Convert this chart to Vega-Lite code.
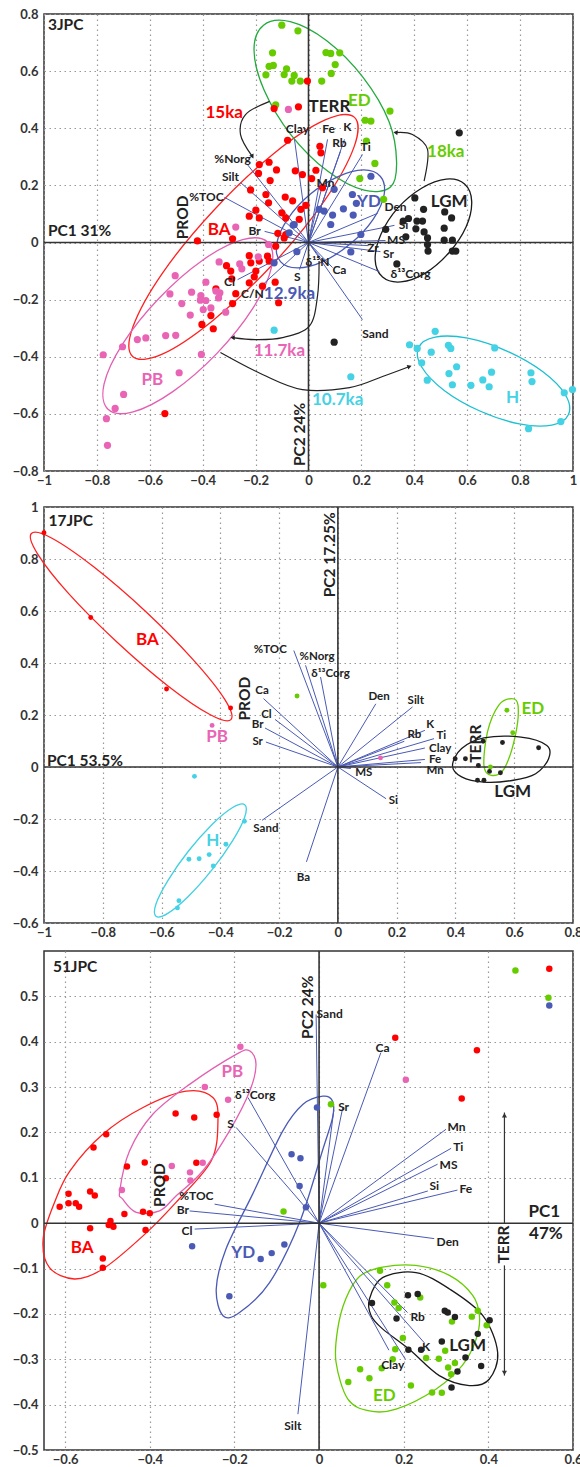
{
"$schema":"https://vega.github.io/schema/vega-lite/v6.json",
"padding":{"left":11,"top":7,"right":9,"bottom":0},
"background":"white",
"spacing":36,
"bounds":"flush",
"resolve":{"scale":{"stroke":"independent"}},
"config":{
 "font":"Lato",
 "view":{"stroke":"#333333","strokeWidth":1.5},
 "axis":{"domain":false,"ticks":false,"grid":true,"gridColor":"#999999","gridDash":[1.5,3.5],"gridWidth":1.2,"labelFont":"Lato","labelFontSize":13,"labelFontWeight":"bold","labelColor":"#333333","labelFlush":false,"labelOverlap":false},
 "axisX":{"labelPadding":3},
 "axisY":{"labelPadding":6},
 "text":{"font":"Lato","fontWeight":"bold"}
},
"datasets":{
"p1pts":[
{"g":"ED","x":-0.101,"y":0.761},{"g":"ED","x":-0.040,"y":0.741},{"g":"ED","x":-0.136,"y":0.664},{"g":"ED","x":-0.149,"y":0.617},{"g":"ED","x":-0.133,"y":0.620},{"g":"ED","x":-0.161,"y":0.587},{"g":"ED","x":-0.083,"y":0.608},{"g":"ED","x":-0.092,"y":0.588},{"g":"ED","x":-0.054,"y":0.585},{"g":"ED","x":-0.063,"y":0.565},{"g":"ED","x":-0.031,"y":0.565},{"g":"ED","x":-0.124,"y":0.482},{"g":"ED","x":0.066,"y":0.665},{"g":"ED","x":0.084,"y":0.662},{"g":"ED","x":0.118,"y":0.664},{"g":"ED","x":0.101,"y":0.623},{"g":"ED","x":0.086,"y":0.592},{"g":"ED","x":0.050,"y":0.565},{"g":"ED","x":0.308,"y":0.460},{"g":"ED","x":0.214,"y":0.428},{"g":"ED","x":0.236,"y":0.425},{"g":"ED","x":0.219,"y":0.355},{"g":"ED","x":0.251,"y":0.277},{"g":"ED","x":0.194,"y":0.224},{"g":"ED","x":0.284,"y":0.151},
{"g":"BA","x":-0.130,"y":0.469},{"g":"BA","x":-0.038,"y":0.475},{"g":"BA","x":-0.079,"y":0.358},{"g":"BA","x":-0.149,"y":0.281},{"g":"BA","x":-0.186,"y":0.273},{"g":"BA","x":-0.121,"y":0.254},{"g":"BA","x":-0.189,"y":0.242},{"g":"BA","x":-0.050,"y":0.251},{"g":"BA","x":-0.145,"y":0.217},{"g":"BA","x":-0.219,"y":0.184},{"g":"BA","x":-0.161,"y":0.168},{"g":"BA","x":-0.151,"y":0.139},{"g":"BA","x":-0.088,"y":0.159},{"g":"BA","x":-0.060,"y":0.146},{"g":"BA","x":-0.199,"y":0.113},{"g":"BA","x":-0.224,"y":0.092},{"g":"BA","x":-0.186,"y":0.086},{"g":"BA","x":-0.101,"y":0.104},{"g":"BA","x":-0.086,"y":0.086},{"g":"BA","x":-0.029,"y":0.116},{"g":"BA","x":-0.035,"y":0.081},{"g":"BA","x":-0.116,"y":0.032},{"g":"BA","x":-0.287,"y":0.013},{"g":"BA","x":-0.420,"y":0.006},{"g":"BA","x":-0.004,"y":0.565},{"g":"BA","x":0.043,"y":0.337},{"g":"BA","x":0.047,"y":0.314},{"g":"BA","x":-0.023,"y":0.238},{"g":"BA","x":0.028,"y":0.253},{"g":"BA","x":0.012,"y":0.224},{"g":"BA","x":0.053,"y":0.192},{"g":"BA","x":-0.010,"y":0.130},{"g":"BA","x":-0.086,"y":0.028},{"g":"BA","x":-0.124,"y":-0.013},{"g":"BA","x":-0.155,"y":-0.048},{"g":"BA","x":-0.149,"y":-0.065},{"g":"BA","x":-0.186,"y":-0.065},{"g":"BA","x":-0.224,"y":-0.046},{"g":"BA","x":-0.218,"y":-0.071},{"g":"BA","x":-0.310,"y":-0.081},{"g":"BA","x":-0.294,"y":-0.100},{"g":"BA","x":-0.290,"y":-0.127},{"g":"BA","x":-0.350,"y":-0.162},{"g":"BA","x":-0.275,"y":-0.179},{"g":"BA","x":-0.287,"y":-0.214},{"g":"BA","x":-0.224,"y":-0.141},{"g":"BA","x":-0.205,"y":-0.120},{"g":"BA","x":-0.199,"y":-0.100},{"g":"BA","x":-0.174,"y":-0.153},{"g":"BA","x":-0.126,"y":-0.139},{"g":"BA","x":-0.113,"y":-0.211},{"g":"BA","x":-0.369,"y":-0.256},{"g":"BA","x":-0.403,"y":-0.287},{"g":"BA","x":-0.360,"y":-0.302},{"g":"BA","x":-0.543,"y":-0.599},{"g":"BA","x":-0.092,"y":0.016},
{"g":"PB","x":-0.151,"y":-0.007},{"g":"PB","x":-0.338,"y":-0.068},{"g":"PB","x":-0.260,"y":-0.075},{"g":"PB","x":-0.252,"y":-0.092},{"g":"PB","x":-0.504,"y":-0.116},{"g":"PB","x":-0.388,"y":-0.139},{"g":"PB","x":-0.524,"y":-0.180},{"g":"PB","x":-0.442,"y":-0.174},{"g":"PB","x":-0.407,"y":-0.186},{"g":"PB","x":-0.388,"y":-0.203},{"g":"PB","x":-0.409,"y":-0.202},{"g":"PB","x":-0.350,"y":-0.170},{"g":"PB","x":-0.335,"y":-0.176},{"g":"PB","x":-0.340,"y":-0.194},{"g":"PB","x":-0.479,"y":-0.214},{"g":"PB","x":-0.398,"y":-0.235},{"g":"PB","x":-0.369,"y":-0.229},{"g":"PB","x":-0.313,"y":-0.244},{"g":"PB","x":-0.447,"y":-0.254},{"g":"PB","x":-0.647,"y":-0.340},{"g":"PB","x":-0.615,"y":-0.334},{"g":"PB","x":-0.540,"y":-0.326},{"g":"PB","x":-0.502,"y":-0.325},{"g":"PB","x":-0.703,"y":-0.365},{"g":"PB","x":-0.405,"y":-0.392},{"g":"PB","x":-0.776,"y":-0.393},{"g":"PB","x":-0.489,"y":-0.456},{"g":"PB","x":-0.699,"y":-0.532},{"g":"PB","x":-0.731,"y":-0.581},{"g":"PB","x":-0.764,"y":-0.617},{"g":"PB","x":-0.760,"y":-0.710},{"g":"PB","x":-0.076,"y":0.466},{"g":"PB","x":-0.275,"y":0.054},{"g":"PB","x":-0.190,"y":-0.050},
{"g":"YD","x":0.236,"y":0.232},{"g":"YD","x":0.166,"y":0.168},{"g":"YD","x":0.181,"y":0.137},{"g":"YD","x":0.132,"y":0.118},{"g":"YD","x":0.169,"y":0.096},{"g":"YD","x":0.097,"y":0.186},{"g":"YD","x":0.040,"y":0.116},{"g":"YD","x":0.059,"y":0.110},{"g":"YD","x":0.091,"y":0.096},{"g":"YD","x":0.084,"y":0.063},{"g":"YD","x":-0.054,"y":0.063},{"g":"YD","x":0.198,"y":0.028},{"g":"YD","x":-0.073,"y":0.034},{"g":"YD","x":-0.058,"y":0.061},{"g":"YD","x":-0.044,"y":-0.032},{"g":"YD","x":0.160,"y":-0.033},{"g":"YD","x":-0.130,"y":-0.071},
{"g":"LGM","x":0.570,"y":0.384},{"g":"LGM","x":0.402,"y":0.156},{"g":"LGM","x":0.435,"y":0.116},{"g":"LGM","x":0.515,"y":0.107},{"g":"LGM","x":0.541,"y":0.086},{"g":"LGM","x":0.378,"y":0.084},{"g":"LGM","x":0.410,"y":0.075},{"g":"LGM","x":0.431,"y":0.075},{"g":"LGM","x":0.358,"y":0.075},{"g":"LGM","x":0.406,"y":0.048},{"g":"LGM","x":0.437,"y":0.037},{"g":"LGM","x":0.513,"y":0.050},{"g":"LGM","x":0.292,"y":0.046},{"g":"LGM","x":0.368,"y":0.020},{"g":"LGM","x":0.450,"y":0.016},{"g":"LGM","x":0.513,"y":0.008},{"g":"LGM","x":0.544,"y":0.008},{"g":"LGM","x":0.450,"y":-0.007},{"g":"LGM","x":0.452,"y":-0.030},{"g":"LGM","x":0.544,"y":-0.030},{"g":"LGM","x":0.557,"y":-0.030},{"g":"LGM","x":0.334,"y":-0.075},{"g":"LGM","x":0.097,"y":-0.349},
{"g":"H","x":0.479,"y":-0.311},{"g":"H","x":0.382,"y":-0.358},{"g":"H","x":0.411,"y":-0.371},{"g":"H","x":0.464,"y":-0.384},{"g":"H","x":0.529,"y":-0.360},{"g":"H","x":0.538,"y":-0.371},{"g":"H","x":0.704,"y":-0.369},{"g":"H","x":0.428,"y":-0.421},{"g":"H","x":0.560,"y":-0.435},{"g":"H","x":0.531,"y":-0.459},{"g":"H","x":0.692,"y":-0.454},{"g":"H","x":0.659,"y":-0.481},{"g":"H","x":0.614,"y":-0.500},{"g":"H","x":0.544,"y":-0.498},{"g":"H","x":0.683,"y":-0.505},{"g":"H","x":0.449,"y":-0.482},{"g":"H","x":0.841,"y":-0.456},{"g":"H","x":0.845,"y":-0.487},{"g":"H","x":0.967,"y":-0.526},{"g":"H","x":0.998,"y":-0.515},{"g":"H","x":0.954,"y":-0.627},{"g":"H","x":0.832,"y":-0.652},{"g":"H","x":0.160,"y":-0.470},{"g":"H","x":-0.130,"y":-0.307}
],
"p1vec":[
{"x":-0.053,"y":0.361},{"x":0.072,"y":0.361},{"x":0.136,"y":0.361},{"x":0.121,"y":0.319},{"x":0.204,"y":0.308},{"x":0.053,"y":0.203},{"x":-0.231,"y":0.273},{"x":-0.257,"y":0.210},{"x":-0.318,"y":0.158},{"x":-0.166,"y":0.039},{"x":0.261,"y":0.102},{"x":0.325,"y":0.060},{"x":0.291,"y":0.007},{"x":0.227,"y":-0.011},{"x":0.272,"y":-0.032},{"x":0.268,"y":-0.102},{"x":0.091,"y":-0.088},{"x":0.204,"y":-0.270},{"x":0.045,"y":-0.053},{"x":-0.034,"y":-0.095},{"x":-0.268,"y":-0.130},{"x":-0.185,"y":-0.158}
],
"p1var":[
{"t":"Clay","x":-0.042,"y":0.396},{"t":"Fe","x":0.076,"y":0.396},{"t":"K","x":0.147,"y":0.403},{"t":"Rb","x":0.117,"y":0.347},{"t":"Ti","x":0.216,"y":0.336},{"t":"Mn","x":0.064,"y":0.210},{"t":"%Norg","x":-0.287,"y":0.294},{"t":"Silt","x":-0.295,"y":0.231},{"t":"%TOC","x":-0.386,"y":0.158},{"t":"Br","x":-0.204,"y":0.042},{"t":"Den","x":0.329,"y":0.126},{"t":"Si","x":0.359,"y":0.062},{"t":"MS","x":0.331,"y":0.009},{"t":"Zr","x":0.244,"y":-0.018},{"t":"Sr","x":0.302,"y":-0.040},{"t":"δ¹³Corg","x":0.386,"y":-0.112},{"t":"Ca","x":0.117,"y":-0.095},{"t":"Sand","x":0.253,"y":-0.319},{"t":"δ¹⁵N","x":0.034,"y":-0.067},{"t":"S","x":-0.042,"y":-0.122},{"t":"Cl","x":-0.299,"y":-0.137},{"t":"C/N","x":-0.212,"y":-0.182}
],
"p1ell":[
{"g":"BA","i":0,"x":0.174,"y":0.438},{"g":"BA","i":1,"x":0.172,"y":0.334},{"g":"BA","i":2,"x":0.060,"y":0.146},{"g":"BA","i":3,"x":-0.135,"y":-0.076},{"g":"BA","i":4,"x":-0.360,"y":-0.272},{"g":"BA","i":5,"x":-0.553,"y":-0.391},{"g":"BA","i":6,"x":-0.665,"y":-0.399},{"g":"BA","i":7,"x":-0.664,"y":-0.296},{"g":"BA","i":8,"x":-0.552,"y":-0.107},{"g":"BA","i":9,"x":-0.357,"y":0.114},{"g":"BA","i":10,"x":-0.132,"y":0.311},{"g":"BA","i":11,"x":0.063,"y":0.429},
{"g":"PB","i":0,"x":-0.154,"y":0.001},{"g":"PB","i":1,"x":-0.140,"y":-0.087},{"g":"PB","i":2,"x":-0.210,"y":-0.230},{"g":"PB","i":3,"x":-0.347,"y":-0.389},{"g":"PB","i":4,"x":-0.513,"y":-0.522},{"g":"PB","i":5,"x":-0.663,"y":-0.593},{"g":"PB","i":6,"x":-0.758,"y":-0.584},{"g":"PB","i":7,"x":-0.773,"y":-0.496},{"g":"PB","i":8,"x":-0.702,"y":-0.354},{"g":"PB","i":9,"x":-0.565,"y":-0.195},{"g":"PB","i":10,"x":-0.399,"y":-0.061},{"g":"PB","i":11,"x":-0.249,"y":0.010},
{"g":"ED","i":0,"x":0.310,"y":0.194},{"g":"ED","i":1,"x":0.210,"y":0.183},{"g":"ED","i":2,"x":0.072,"y":0.250},{"g":"ED","i":3,"x":-0.067,"y":0.378},{"g":"ED","i":4,"x":-0.168,"y":0.534},{"g":"ED","i":5,"x":-0.206,"y":0.674},{"g":"ED","i":6,"x":-0.170,"y":0.761},{"g":"ED","i":7,"x":-0.069,"y":0.773},{"g":"ED","i":8,"x":0.069,"y":0.706},{"g":"ED","i":9,"x":0.207,"y":0.577},{"g":"ED","i":10,"x":0.305,"y":0.422},{"g":"ED","i":11,"x":0.333,"y":0.282},
{"g":"YD","i":0,"x":0.272,"y":0.231},{"g":"YD","i":1,"x":0.286,"y":0.168},{"g":"YD","i":2,"x":0.245,"y":0.082},{"g":"YD","i":3,"x":0.161,"y":-0.003},{"g":"YD","i":4,"x":0.056,"y":-0.066},{"g":"YD","i":5,"x":-0.041,"y":-0.089},{"g":"YD","i":6,"x":-0.106,"y":-0.067},{"g":"YD","i":7,"x":-0.120,"y":-0.004},{"g":"YD","i":8,"x":-0.079,"y":0.082},{"g":"YD","i":9,"x":0.005,"y":0.168},{"g":"YD","i":10,"x":0.110,"y":0.230},{"g":"YD","i":11,"x":0.208,"y":0.254},
{"g":"LGM","i":0,"x":0.590,"y":0.205},{"g":"LGM","i":1,"x":0.617,"y":0.144},{"g":"LGM","i":2,"x":0.596,"y":0.055},{"g":"LGM","i":3,"x":0.531,"y":-0.036},{"g":"LGM","i":4,"x":0.440,"y":-0.108},{"g":"LGM","i":5,"x":0.349,"y":-0.138},{"g":"LGM","i":6,"x":0.280,"y":-0.121},{"g":"LGM","i":7,"x":0.252,"y":-0.060},{"g":"LGM","i":8,"x":0.274,"y":0.029},{"g":"LGM","i":9,"x":0.338,"y":0.121},{"g":"LGM","i":10,"x":0.429,"y":0.191},{"g":"LGM","i":11,"x":0.521,"y":0.222},
{"g":"H","i":0,"x":0.983,"y":-0.602},{"g":"H","i":1,"x":0.920,"y":-0.639},{"g":"H","i":2,"x":0.797,"y":-0.635},{"g":"H","i":3,"x":0.648,"y":-0.590},{"g":"H","i":4,"x":0.513,"y":-0.518},{"g":"H","i":5,"x":0.428,"y":-0.436},{"g":"H","i":6,"x":0.416,"y":-0.368},{"g":"H","i":7,"x":0.479,"y":-0.331},{"g":"H","i":8,"x":0.602,"y":-0.335},{"g":"H","i":9,"x":0.750,"y":-0.380},{"g":"H","i":10,"x":0.885,"y":-0.452},{"g":"H","i":11,"x":0.971,"y":-0.533}
],
"p1arr":[
{"a":"15ka","i":0,"x":-0.147,"y":0.494},{"a":"15ka","i":1,"x":-0.238,"y":0.448},{"a":"15ka","i":2,"x":-0.257,"y":0.378},{"a":"15ka","i":3,"x":-0.212,"y":0.301},
{"a":"18ka","i":0,"x":0.437,"y":0.215},{"a":"18ka","i":1,"x":0.450,"y":0.326},{"a":"18ka","i":2,"x":0.393,"y":0.378},{"a":"18ka","i":3,"x":0.329,"y":0.385},
{"a":"11.7ka","i":0,"x":0.040,"y":-0.065},{"a":"11.7ka","i":1,"x":0.034,"y":-0.188},{"a":"11.7ka","i":2,"x":0.003,"y":-0.293},{"a":"11.7ka","i":3,"x":-0.098,"y":-0.333},{"a":"11.7ka","i":4,"x":-0.200,"y":-0.340},{"a":"11.7ka","i":5,"x":-0.287,"y":-0.333},
{"a":"10.7ka","i":0,"x":-0.333,"y":-0.385},{"a":"10.7ka","i":1,"x":-0.174,"y":-0.462},{"a":"10.7ka","i":2,"x":-0.023,"y":-0.515},{"a":"10.7ka","i":3,"x":0.155,"y":-0.508},{"a":"10.7ka","i":4,"x":0.280,"y":-0.469},{"a":"10.7ka","i":5,"x":0.382,"y":-0.434}
],
"p1head":[
{"x":-0.212,"y":0.301,"dir":151},{"x":0.329,"y":0.385,"dir":277},{"x":-0.287,"y":-0.333,"dir":272},{"x":0.382,"y":-0.434,"dir":70}
],
"p1grp":[
{"t":"15ka","g":"BA","x":-0.319,"y":0.454},{"t":"BA","g":"BA","x":-0.338,"y":0.043},{"t":"ED","g":"ED","x":0.192,"y":0.495},{"t":"18ka","g":"ED","x":0.519,"y":0.316},{"t":"YD","g":"YD","x":0.229,"y":0.143},{"t":"12.9ka","g":"YD","x":-0.072,"y":-0.180},{"t":"11.7ka","g":"PB","x":-0.110,"y":-0.381},{"t":"10.7ka","g":"H","x":0.110,"y":-0.552},{"t":"PB","g":"PB","x":-0.590,"y":-0.480},{"t":"H","g":"H","x":0.771,"y":-0.543},{"t":"LGM","g":"LGM","x":0.532,"y":0.143},{"t":"TERR","g":"LGM","x":0.079,"y":0.476}
],
"p1ann":[{"t":"3JPC","x":-0.985,"y":0.760},{"t":"PC1 31%","x":-0.985,"y":0.039}],
"p1rot":[{"t":"PROD","x":-0.476,"y":0.088},{"t":"PC2 24%","x":-0.034,"y":-0.672}],
"p2pts":[
{"g":"BA","x":-1.0,"y":0.901},{"g":"BA","x":-0.841,"y":0.575},{"g":"BA","x":-0.583,"y":0.300},{"g":"BA","x":-0.365,"y":0.227},
{"g":"PB","x":-0.428,"y":0.160},{"g":"PB","x":0.145,"y":0.035},
{"g":"ED","x":-0.139,"y":0.273},{"g":"ED","x":0.575,"y":0.218},{"g":"ED","x":0.595,"y":0.132},{"g":"ED","x":0.519,"y":0.0},
{"g":"LGM","x":0.399,"y":0.032},{"g":"LGM","x":0.434,"y":0.032},{"g":"LGM","x":0.478,"y":0.006},{"g":"LGM","x":0.560,"y":0.094},{"g":"LGM","x":0.683,"y":0.074},{"g":"LGM","x":0.516,"y":-0.017},{"g":"LGM","x":0.553,"y":-0.022},{"g":"LGM","x":0.475,"y":-0.051},{"g":"LGM","x":0.497,"y":-0.051},{"g":"LGM","x":0.494,"y":0.099},
{"g":"H","x":-0.507,"y":-0.355},{"g":"H","x":-0.472,"y":-0.353},{"g":"H","x":-0.438,"y":-0.337},{"g":"H","x":-0.424,"y":-0.381},{"g":"H","x":-0.381,"y":-0.297},{"g":"H","x":-0.318,"y":-0.209},{"g":"H","x":-0.541,"y":-0.514},{"g":"H","x":-0.546,"y":-0.542},{"g":"H","x":-0.488,"y":-0.036}
],
"p2vec":[
{"x":-0.150,"y":0.448},{"x":-0.110,"y":0.391},{"x":-0.059,"y":0.346},{"x":0.129,"y":0.243},{"x":0.254,"y":0.231},{"x":0.296,"y":0.141},{"x":0.327,"y":0.109},{"x":0.226,"y":0.099},{"x":0.296,"y":0.073},{"x":0.296,"y":0.029},{"x":0.283,"y":0.017},{"x":0.044,"y":-0.006},{"x":0.164,"y":-0.122},{"x":-0.107,"y":-0.365},{"x":-0.258,"y":-0.205},{"x":-0.245,"y":0.096},{"x":-0.248,"y":0.150},{"x":-0.214,"y":0.183},{"x":-0.253,"y":0.263}
],
"p2var":[
{"t":"%TOC","x":-0.230,"y":0.451},{"t":"%Norg","x":-0.071,"y":0.425},{"t":"δ¹³Corg","x":-0.025,"y":0.359},{"t":"Den","x":0.140,"y":0.269},{"t":"Silt","x":0.265,"y":0.254},{"t":"Ca","x":-0.258,"y":0.292},{"t":"Cl","x":-0.243,"y":0.199},{"t":"Br","x":-0.273,"y":0.160},{"t":"Sr","x":-0.273,"y":0.096},{"t":"K","x":0.314,"y":0.160},{"t":"Rb","x":0.260,"y":0.124},{"t":"Ti","x":0.352,"y":0.119},{"t":"Clay","x":0.348,"y":0.068},{"t":"Fe","x":0.331,"y":0.026},{"t":"Mn","x":0.331,"y":-0.017},{"t":"MS","x":0.088,"y":-0.022},{"t":"Si","x":0.189,"y":-0.132},{"t":"Sand","x":-0.245,"y":-0.237},{"t":"Ba","x":-0.117,"y":-0.426}
],
"p2ell":[
{"g":"BA","i":0,"x":-0.364,"y":0.182},{"g":"BA","i":1,"x":-0.434,"y":0.201},{"g":"BA","i":2,"x":-0.576,"y":0.310},{"g":"BA","i":3,"x":-0.752,"y":0.481},{"g":"BA","i":4,"x":-0.916,"y":0.667},{"g":"BA","i":5,"x":-1.022,"y":0.820},{"g":"BA","i":6,"x":-1.043,"y":0.898},{"g":"BA","i":7,"x":-0.973,"y":0.880},{"g":"BA","i":8,"x":-0.831,"y":0.770},{"g":"BA","i":9,"x":-0.655,"y":0.599},{"g":"BA","i":10,"x":-0.492,"y":0.412},{"g":"BA","i":11,"x":-0.385,"y":0.260},
{"g":"H","i":0,"x":-0.317,"y":-0.145},{"g":"H","i":1,"x":-0.317,"y":-0.192},{"g":"H","i":2,"x":-0.358,"y":-0.283},{"g":"H","i":3,"x":-0.428,"y":-0.395},{"g":"H","i":4,"x":-0.509,"y":-0.498},{"g":"H","i":5,"x":-0.579,"y":-0.563},{"g":"H","i":6,"x":-0.619,"y":-0.574},{"g":"H","i":7,"x":-0.619,"y":-0.527},{"g":"H","i":8,"x":-0.578,"y":-0.436},{"g":"H","i":9,"x":-0.509,"y":-0.324},{"g":"H","i":10,"x":-0.428,"y":-0.221},{"g":"H","i":11,"x":-0.358,"y":-0.156},
{"g":"ED","i":0,"x":0.591,"y":0.263},{"g":"ED","i":1,"x":0.613,"y":0.237},{"g":"ED","i":2,"x":0.604,"y":0.122},{"g":"ED","i":3,"x":0.566,"y":-0.006},{"g":"ED","i":4,"x":0.522,"y":-0.032},{"g":"ED","i":5,"x":0.497,"y":0.006},{"g":"ED","i":6,"x":0.509,"y":0.135},{"g":"ED","i":7,"x":0.547,"y":0.237},
{"g":"LGM","i":0,"x":0.390,"y":0.006},{"g":"LGM","i":1,"x":0.421,"y":0.071},{"g":"LGM","i":2,"x":0.497,"y":0.112},{"g":"LGM","i":3,"x":0.623,"y":0.115},{"g":"LGM","i":4,"x":0.711,"y":0.083},{"g":"LGM","i":5,"x":0.717,"y":0.032},{"g":"LGM","i":6,"x":0.673,"y":-0.026},{"g":"LGM","i":7,"x":0.597,"y":-0.051},{"g":"LGM","i":8,"x":0.497,"y":-0.058},{"g":"LGM","i":9,"x":0.421,"y":-0.038}
],
"p2grp":[
{"t":"BA","g":"BA","x":-0.648,"y":0.487},{"t":"PB","g":"PB","x":-0.411,"y":0.115},{"t":"ED","g":"ED","x":0.663,"y":0.222},{"t":"LGM","g":"LGM","x":0.595,"y":-0.096},{"t":"H","g":"H","x":-0.426,"y":-0.286}
],
"p2ann":[{"t":"17JPC","x":-0.985,"y":0.948},{"t":"PC1  53.5%","x":-0.990,"y":0.025}],
"p2rot":[{"t":"PROD","x":-0.317,"y":0.263},{"t":"PC2 17.25%","x":-0.027,"y":0.816},{"t":"TERR","x":0.469,"y":0.090}],
"p3pts":[
{"g":"BA","x":-0.339,"y":0.242},{"g":"BA","x":-0.295,"y":0.233},{"g":"BA","x":-0.242,"y":0.239},{"g":"BA","x":-0.503,"y":0.196},{"g":"BA","x":-0.533,"y":0.167},{"g":"BA","x":-0.454,"y":0.125},{"g":"BA","x":-0.412,"y":0.134},{"g":"BA","x":-0.290,"y":0.133},{"g":"BA","x":-0.362,"y":0.099},{"g":"BA","x":-0.592,"y":0.065},{"g":"BA","x":-0.541,"y":0.070},{"g":"BA","x":-0.530,"y":0.061},{"g":"BA","x":-0.592,"y":0.044},{"g":"BA","x":-0.613,"y":0.036},{"g":"BA","x":-0.575,"y":0.044},{"g":"BA","x":-0.567,"y":0.036},{"g":"BA","x":-0.460,"y":0.020},{"g":"BA","x":-0.416,"y":0.025},{"g":"BA","x":-0.400,"y":0.022},{"g":"BA","x":-0.493,"y":0.005},{"g":"BA","x":-0.497,"y":-0.004},{"g":"BA","x":-0.486,"y":-0.008},{"g":"BA","x":-0.541,"y":-0.011},{"g":"BA","x":-0.410,"y":-0.015},{"g":"BA","x":-0.511,"y":-0.078},{"g":"BA","x":-0.511,"y":-0.098},{"g":"BA","x":0.180,"y":0.409},{"g":"BA","x":0.373,"y":0.381},{"g":"BA","x":0.337,"y":0.275},{"g":"BA","x":0.544,"y":0.561},
{"g":"PB","x":-0.186,"y":0.389},{"g":"PB","x":-0.270,"y":0.300},{"g":"PB","x":-0.215,"y":0.272},{"g":"PB","x":-0.275,"y":0.133},{"g":"PB","x":-0.348,"y":0.126},{"g":"PB","x":-0.305,"y":0.112},{"g":"PB","x":-0.304,"y":0.094},{"g":"PB","x":-0.466,"y":0.073},{"g":"PB","x":0.205,"y":0.316},
{"g":"ED","x":0.464,"y":0.557},{"g":"ED","x":0.542,"y":0.497},{"g":"ED","x":0.028,"y":0.262},{"g":"ED","x":-0.084,"y":0.026},{"g":"ED","x":0.010,"y":-0.137},{"g":"ED","x":0.144,"y":-0.105},{"g":"ED","x":0.161,"y":-0.137},{"g":"ED","x":0.239,"y":-0.164},{"g":"ED","x":0.178,"y":-0.175},{"g":"ED","x":0.188,"y":-0.187},{"g":"ED","x":0.375,"y":-0.193},{"g":"ED","x":0.361,"y":-0.206},{"g":"ED","x":0.314,"y":-0.217},{"g":"ED","x":0.396,"y":-0.225},{"g":"ED","x":0.198,"y":-0.253},{"g":"ED","x":0.180,"y":-0.278},{"g":"ED","x":0.298,"y":-0.281},{"g":"ED","x":0.253,"y":-0.297},{"g":"ED","x":0.283,"y":-0.299},{"g":"ED","x":0.321,"y":-0.308},{"g":"ED","x":0.174,"y":-0.300},{"g":"ED","x":0.148,"y":-0.320},{"g":"ED","x":0.305,"y":-0.318},{"g":"ED","x":0.312,"y":-0.333},{"g":"ED","x":0.097,"y":-0.322},{"g":"ED","x":0.119,"y":-0.342},{"g":"ED","x":0.069,"y":-0.350},{"g":"ED","x":0.217,"y":-0.358},{"g":"ED","x":0.267,"y":-0.373},{"g":"ED","x":0.290,"y":-0.374},
{"g":"LGM","x":0.125,"y":-0.176},{"g":"LGM","x":0.210,"y":-0.159},{"g":"LGM","x":0.233,"y":-0.156},{"g":"LGM","x":0.297,"y":-0.193},{"g":"LGM","x":0.304,"y":-0.197},{"g":"LGM","x":0.321,"y":-0.207},{"g":"LGM","x":0.403,"y":-0.214},{"g":"LGM","x":0.183,"y":-0.210},{"g":"LGM","x":0.290,"y":-0.261},{"g":"LGM","x":0.211,"y":-0.279},{"g":"LGM","x":0.241,"y":-0.279},{"g":"LGM","x":0.375,"y":-0.244},{"g":"LGM","x":0.346,"y":-0.296},{"g":"LGM","x":0.383,"y":-0.315},{"g":"LGM","x":0.327,"y":-0.327},{"g":"LGM","x":0.313,"y":-0.362},
{"g":"YD","x":-0.065,"y":0.152},{"g":"YD","x":-0.044,"y":0.143},{"g":"YD","x":-0.046,"y":0.082},{"g":"YD","x":-0.005,"y":0.255},{"g":"YD","x":0.544,"y":0.480},{"g":"YD","x":-0.300,"y":-0.051},{"g":"YD","x":-0.212,"y":-0.161},{"g":"YD","x":-0.138,"y":-0.079},{"g":"YD","x":-0.112,"y":-0.066},{"g":"YD","x":-0.082,"y":-0.047},{"g":"YD","x":-0.031,"y":0.035}
],
"p3vec":[
{"x":-0.007,"y":0.460},{"x":0.146,"y":0.376},{"x":0.056,"y":0.255},{"x":0.035,"y":0.250},{"x":0.300,"y":0.207},{"x":0.312,"y":0.165},{"x":0.280,"y":0.130},{"x":0.257,"y":0.071},{"x":0.327,"y":0.073},{"x":0.272,"y":-0.034},{"x":0.209,"y":-0.197},{"x":0.249,"y":-0.264},{"x":0.204,"y":-0.300},{"x":0.165,"y":-0.280},{"x":-0.050,"y":-0.421},{"x":-0.294,"y":-0.013},{"x":-0.306,"y":0.027},{"x":-0.247,"y":0.042},{"x":-0.168,"y":0.277},{"x":-0.196,"y":0.211}
],
"p3var":[
{"t":"Sand","x":0.025,"y":0.462},{"t":"Ca","x":0.150,"y":0.387},{"t":"Sr","x":0.058,"y":0.257},{"t":"Mn","x":0.325,"y":0.211},{"t":"Ti","x":0.329,"y":0.169},{"t":"MS","x":0.306,"y":0.128},{"t":"Si","x":0.272,"y":0.081},{"t":"Fe","x":0.347,"y":0.075},{"t":"Den","x":0.304,"y":-0.041},{"t":"Rb","x":0.233,"y":-0.206},{"t":"K","x":0.253,"y":-0.274},{"t":"Clay","x":0.174,"y":-0.312},{"t":"Silt","x":-0.062,"y":-0.446},{"t":"Cl","x":-0.312,"y":-0.017},{"t":"Br","x":-0.322,"y":0.029},{"t":"%TOC","x":-0.290,"y":0.060},{"t":"δ¹³Corg","x":-0.151,"y":0.283},{"t":"S","x":-0.209,"y":0.218}
],
"p3ell":[
{"g":"BA","i":0,"x":-0.625,"y":0.046},{"g":"BA","i":1,"x":-0.589,"y":0.115},{"g":"BA","i":2,"x":-0.511,"y":0.196},{"g":"BA","i":3,"x":-0.416,"y":0.255},{"g":"BA","i":4,"x":-0.314,"y":0.291},{"g":"BA","i":5,"x":-0.251,"y":0.277},{"g":"BA","i":6,"x":-0.239,"y":0.225},{"g":"BA","i":7,"x":-0.255,"y":0.137},{"g":"BA","i":8,"x":-0.338,"y":0.046},{"g":"BA","i":9,"x":-0.416,"y":-0.028},{"g":"BA","i":10,"x":-0.511,"y":-0.101},{"g":"BA","i":11,"x":-0.578,"y":-0.123},{"g":"BA","i":12,"x":-0.637,"y":-0.098},{"g":"BA","i":13,"x":-0.652,"y":-0.035},
{"g":"PB","i":0,"x":-0.471,"y":0.071},{"g":"PB","i":1,"x":-0.448,"y":0.159},{"g":"PB","i":2,"x":-0.393,"y":0.240},{"g":"PB","i":3,"x":-0.306,"y":0.306},{"g":"PB","i":4,"x":-0.196,"y":0.372},{"g":"PB","i":5,"x":-0.164,"y":0.380},{"g":"PB","i":6,"x":-0.149,"y":0.350},{"g":"PB","i":7,"x":-0.164,"y":0.291},{"g":"PB","i":8,"x":-0.212,"y":0.203},{"g":"PB","i":9,"x":-0.275,"y":0.115},{"g":"PB","i":10,"x":-0.338,"y":0.060},{"g":"PB","i":11,"x":-0.377,"y":0.027},{"g":"PB","i":12,"x":-0.432,"y":0.024},{"g":"PB","i":13,"x":-0.464,"y":0.053},
{"g":"YD","i":0,"x":0.009,"y":0.280},{"g":"YD","i":1,"x":0.032,"y":0.269},{"g":"YD","i":2,"x":0.032,"y":0.233},{"g":"YD","i":3,"x":0.009,"y":0.163},{"g":"YD","i":4,"x":-0.046,"y":0.002},{"g":"YD","i":5,"x":-0.117,"y":-0.131},{"g":"YD","i":6,"x":-0.188,"y":-0.197},{"g":"YD","i":7,"x":-0.227,"y":-0.204},{"g":"YD","i":8,"x":-0.243,"y":-0.145},{"g":"YD","i":9,"x":-0.220,"y":-0.057},{"g":"YD","i":10,"x":-0.157,"y":0.064},{"g":"YD","i":11,"x":-0.086,"y":0.203},{"g":"YD","i":12,"x":-0.038,"y":0.262},
{"g":"ED","i":0,"x":0.040,"y":-0.306},{"g":"ED","i":1,"x":0.044,"y":-0.233},{"g":"ED","i":2,"x":0.063,"y":-0.167},{"g":"ED","i":3,"x":0.096,"y":-0.117},{"g":"ED","i":4,"x":0.150,"y":-0.097},{"g":"ED","i":5,"x":0.228,"y":-0.093},{"g":"ED","i":6,"x":0.308,"y":-0.115},{"g":"ED","i":7,"x":0.363,"y":-0.159},{"g":"ED","i":8,"x":0.379,"y":-0.205},{"g":"ED","i":9,"x":0.371,"y":-0.256},{"g":"ED","i":10,"x":0.339,"y":-0.313},{"g":"ED","i":11,"x":0.276,"y":-0.366},{"g":"ED","i":12,"x":0.182,"y":-0.410},{"g":"ED","i":13,"x":0.119,"y":-0.414},{"g":"ED","i":14,"x":0.068,"y":-0.388},
{"g":"LGM","i":0,"x":0.119,"y":-0.167},{"g":"LGM","i":1,"x":0.150,"y":-0.120},{"g":"LGM","i":2,"x":0.229,"y":-0.109},{"g":"LGM","i":3,"x":0.308,"y":-0.145},{"g":"LGM","i":4,"x":0.387,"y":-0.204},{"g":"LGM","i":5,"x":0.422,"y":-0.285},{"g":"LGM","i":6,"x":0.402,"y":-0.344},{"g":"LGM","i":7,"x":0.355,"y":-0.358},{"g":"LGM","i":8,"x":0.284,"y":-0.336},{"g":"LGM","i":9,"x":0.213,"y":-0.278},{"g":"LGM","i":10,"x":0.150,"y":-0.233},{"g":"LGM","i":11,"x":0.123,"y":-0.204}
],
"p3grp":[
{"t":"PB","g":"PB","x":-0.205,"y":0.334},{"t":"BA","g":"BA","x":-0.560,"y":-0.054},{"t":"YD","g":"YD","x":-0.179,"y":-0.065},{"t":"LGM","g":"LGM","x":0.351,"y":-0.270},{"t":"ED","g":"ED","x":0.154,"y":-0.380},{"t":"PC1","g":"LGM","x":0.532,"y":0.025},{"t":"47%","g":"LGM","x":0.536,"y":-0.024}
],
"p3ann":[{"t":"51JPC","x":-0.629,"y":0.565}],
"p3rot":[{"t":"PC2  24%","x":-0.027,"y":0.476},{"t":"PROD","x":-0.376,"y":0.084},{"t":"TERR","x":0.438,"y":-0.047}],
"p3terr":[{"x":0.438,"y":0.244,"y2":0.0},{"x":0.438,"y":-0.093,"y2":-0.336}],
"p3tips":[{"x":0.438,"y":0.238,"end":"top"},{"x":0.438,"y":-0.330,"end":"bottom"}]
},
"vconcat":[
{
 "width":529,"height":457,
 "layer":[
  {"data":{"name":"p1ell"},"mark":{"type":"line","interpolate":"cardinal-closed","strokeWidth":1.3},
   "encoding":{"x":{"field":"x","type":"quantitative","title":null,"scale":{"domain":[-1,1],"nice":false,"zero":false},"axis":{"values":[-1,-0.8,-0.6,-0.4,-0.2,0,0.2,0.4,0.6,0.8,1],"format":"~g"}},
    "y":{"field":"y","type":"quantitative","title":null,"scale":{"domain":[-0.8,0.8],"nice":false,"zero":false},"axis":{"values":[-0.8,-0.6,-0.4,-0.2,0,0.2,0.4,0.6,0.8],"format":"~g"}},
    "order":{"field":"i","type":"quantitative"},"detail":{"field":"g"},
    "stroke":{"field":"g","type":"nominal","legend":null,"scale":{"domain":["BA","PB","YD","ED","LGM","H"],"range":["#ff2020","#e35fb2","#4a5ab5","#22aa3c","#1a1a1a","#1cc0d2"]}}}},
  {"data":{"name":"p1vec"},"mark":{"type":"rule","color":"#4a5ab5","strokeWidth":1},
   "encoding":{"x":{"field":"x","type":"quantitative","title":null,"scale":{"domain":[-1,1],"nice":false,"zero":false}},"y":{"field":"y","type":"quantitative","title":null,"scale":{"domain":[-0.8,0.8],"nice":false,"zero":false}},"x2":{"datum":0},"y2":{"datum":0}}},
  {"data":{"values":[{"v":0}]},"mark":{"type":"rule","color":"#333333","strokeWidth":1.6},"encoding":{"x":{"field":"v","type":"quantitative","title":null,"scale":{"domain":[-1,1],"nice":false,"zero":false}}}},
  {"data":{"values":[{"v":0}]},"mark":{"type":"rule","color":"#333333","strokeWidth":1.6},"encoding":{"y":{"field":"v","type":"quantitative","title":null,"scale":{"domain":[-0.8,0.8],"nice":false,"zero":false}}}},
  {"data":{"name":"p1pts"},"mark":{"type":"circle","size":52,"opacity":1},
   "encoding":{"x":{"field":"x","type":"quantitative","title":null,"scale":{"domain":[-1,1],"nice":false,"zero":false}},"y":{"field":"y","type":"quantitative","title":null,"scale":{"domain":[-0.8,0.8],"nice":false,"zero":false}},
    "fill":{"field":"g","type":"nominal","legend":null,"scale":{"domain":["BA","PB","YD","ED","LGM","H"],"range":["#ff0000","#e964b4","#4a5ab5","#66cc00","#222222","#45d2e4"]}}}},
  {"data":{"name":"p1arr"},"mark":{"type":"line","interpolate":"cardinal","color":"#222222","strokeWidth":1.2},
   "encoding":{"x":{"field":"x","type":"quantitative","title":null,"scale":{"domain":[-1,1],"nice":false,"zero":false}},"y":{"field":"y","type":"quantitative","title":null,"scale":{"domain":[-0.8,0.8],"nice":false,"zero":false}},"detail":{"field":"a"},"order":{"field":"i","type":"quantitative"}}},
  {"data":{"name":"p1head"},"mark":{"type":"point","shape":"triangle-up","filled":true,"size":24,"color":"#222222","opacity":1},
   "encoding":{"x":{"field":"x","type":"quantitative","title":null,"scale":{"domain":[-1,1],"nice":false,"zero":false}},"y":{"field":"y","type":"quantitative","title":null,"scale":{"domain":[-0.8,0.8],"nice":false,"zero":false}},"angle":{"field":"dir","type":"quantitative","scale":null}}},
  {"data":{"name":"p1var"},"mark":{"type":"text","fontSize":12,"color":"#222222","fontWeight":"bold"},
   "encoding":{"x":{"field":"x","type":"quantitative","title":null,"scale":{"domain":[-1,1],"nice":false,"zero":false}},"y":{"field":"y","type":"quantitative","title":null,"scale":{"domain":[-0.8,0.8],"nice":false,"zero":false}},"text":{"field":"t"}}},
  {"data":{"name":"p1grp"},"mark":{"type":"text","fontSize":17,"fontWeight":"bold"},
   "encoding":{"x":{"field":"x","type":"quantitative","title":null,"scale":{"domain":[-1,1],"nice":false,"zero":false}},"y":{"field":"y","type":"quantitative","title":null,"scale":{"domain":[-0.8,0.8],"nice":false,"zero":false}},"text":{"field":"t"},
    "fill":{"field":"g","type":"nominal","legend":null,"scale":{"domain":["BA","PB","YD","ED","LGM","H"],"range":["#ff0000","#e964b4","#4a5ab5","#66cc00","#222222","#45d2e4"]}}}},
  {"data":{"name":"p1ann"},"mark":{"type":"text","fontSize":15.5,"align":"left","color":"#222222","fontWeight":"bold"},
   "encoding":{"x":{"field":"x","type":"quantitative","title":null,"scale":{"domain":[-1,1],"nice":false,"zero":false}},"y":{"field":"y","type":"quantitative","title":null,"scale":{"domain":[-0.8,0.8],"nice":false,"zero":false}},"text":{"field":"t"}}},
  {"data":{"name":"p1rot"},"mark":{"type":"text","fontSize":15.5,"angle":270,"color":"#222222","fontWeight":"bold"},
   "encoding":{"x":{"field":"x","type":"quantitative","title":null,"scale":{"domain":[-1,1],"nice":false,"zero":false}},"y":{"field":"y","type":"quantitative","title":null,"scale":{"domain":[-0.8,0.8],"nice":false,"zero":false}},"text":{"field":"t"}}}
 ]
},
{
 "spacing":28,
 "bounds":"flush",
 "resolve":{"scale":{"stroke":"independent"}},
 "vconcat":[
 {
 "width":529,"height":416,
 "layer":[
  {"data":{"name":"p2ell"},"mark":{"type":"line","interpolate":"cardinal-closed","strokeWidth":1.3},
   "encoding":{"x":{"field":"x","type":"quantitative","title":null,"scale":{"domain":[-1,0.8],"nice":false,"zero":false},"axis":{"values":[-1,-0.8,-0.6,-0.4,-0.2,0,0.2,0.4,0.6,0.8],"format":"~g"}},
    "y":{"field":"y","type":"quantitative","title":null,"scale":{"domain":[-0.6,1],"nice":false,"zero":false},"axis":{"values":[-0.6,-0.4,-0.2,0,0.2,0.4,0.6,0.8,1],"format":"~g"}},
    "order":{"field":"i","type":"quantitative"},"detail":{"field":"g"},
    "stroke":{"field":"g","type":"nominal","legend":null,"scale":{"domain":["BA","PB","YD","ED","LGM","H"],"range":["#ff2020","#e35fb2","#4a5ab5","#66cc00","#1a1a1a","#3fd0e2"]}}}},
  {"data":{"name":"p2vec"},"mark":{"type":"rule","color":"#4a5ab5","strokeWidth":1},
   "encoding":{"x":{"field":"x","type":"quantitative","title":null,"scale":{"domain":[-1,0.8],"nice":false,"zero":false}},"y":{"field":"y","type":"quantitative","title":null,"scale":{"domain":[-0.6,1],"nice":false,"zero":false}},"x2":{"datum":0},"y2":{"datum":0}}},
  {"data":{"values":[{"v":0}]},"mark":{"type":"rule","color":"#333333","strokeWidth":1.6},"encoding":{"x":{"field":"v","type":"quantitative","title":null,"scale":{"domain":[-1,0.8],"nice":false,"zero":false}}}},
  {"data":{"values":[{"v":0}]},"mark":{"type":"rule","color":"#333333","strokeWidth":1.6},"encoding":{"y":{"field":"v","type":"quantitative","title":null,"scale":{"domain":[-0.6,1],"nice":false,"zero":false}}}},
  {"data":{"name":"p2pts"},"mark":{"type":"circle","size":24,"opacity":1},
   "encoding":{"x":{"field":"x","type":"quantitative","title":null,"scale":{"domain":[-1,0.8],"nice":false,"zero":false}},"y":{"field":"y","type":"quantitative","title":null,"scale":{"domain":[-0.6,1],"nice":false,"zero":false}},
    "fill":{"field":"g","type":"nominal","legend":null,"scale":{"domain":["BA","PB","YD","ED","LGM","H"],"range":["#ff0000","#e964b4","#4a5ab5","#66cc00","#222222","#45d2e4"]}}}},
  {"data":{"name":"p2var"},"mark":{"type":"text","fontSize":11.5,"color":"#222222","fontWeight":"bold"},
   "encoding":{"x":{"field":"x","type":"quantitative","title":null,"scale":{"domain":[-1,0.8],"nice":false,"zero":false}},"y":{"field":"y","type":"quantitative","title":null,"scale":{"domain":[-0.6,1],"nice":false,"zero":false}},"text":{"field":"t"}}},
  {"data":{"name":"p2grp"},"mark":{"type":"text","fontSize":17,"fontWeight":"bold"},
   "encoding":{"x":{"field":"x","type":"quantitative","title":null,"scale":{"domain":[-1,0.8],"nice":false,"zero":false}},"y":{"field":"y","type":"quantitative","title":null,"scale":{"domain":[-0.6,1],"nice":false,"zero":false}},"text":{"field":"t"},
    "fill":{"field":"g","type":"nominal","legend":null,"scale":{"domain":["BA","PB","YD","ED","LGM","H"],"range":["#ff0000","#e964b4","#4a5ab5","#66cc00","#222222","#45d2e4"]}}}},
  {"data":{"name":"p2ann"},"mark":{"type":"text","fontSize":15.5,"align":"left","color":"#222222","fontWeight":"bold"},
   "encoding":{"x":{"field":"x","type":"quantitative","title":null,"scale":{"domain":[-1,0.8],"nice":false,"zero":false}},"y":{"field":"y","type":"quantitative","title":null,"scale":{"domain":[-0.6,1],"nice":false,"zero":false}},"text":{"field":"t"}}},
  {"data":{"name":"p2rot"},"mark":{"type":"text","fontSize":15.5,"angle":270,"color":"#222222","fontWeight":"bold"},
   "encoding":{"x":{"field":"x","type":"quantitative","title":null,"scale":{"domain":[-1,0.8],"nice":false,"zero":false}},"y":{"field":"y","type":"quantitative","title":null,"scale":{"domain":[-0.6,1],"nice":false,"zero":false}},"text":{"field":"t"}}}
 ]
 },
 {
 "width":529,"height":499,
 "layer":[
  {"data":{"name":"p3ell"},"mark":{"type":"line","interpolate":"cardinal-closed","strokeWidth":1.3},
   "encoding":{"x":{"field":"x","type":"quantitative","title":null,"scale":{"domain":[-0.65,0.6],"nice":false,"zero":false},"axis":{"values":[-0.6,-0.4,-0.2,0,0.2,0.4,0.6],"format":"~g"}},
    "y":{"field":"y","type":"quantitative","title":null,"scale":{"domain":[-0.5,0.6],"nice":false,"zero":false},"axis":{"values":[-0.5,-0.4,-0.3,-0.2,-0.1,0,0.1,0.2,0.3,0.4,0.5],"format":"~g"}},
    "order":{"field":"i","type":"quantitative"},"detail":{"field":"g"},
    "stroke":{"field":"g","type":"nominal","legend":null,"scale":{"domain":["BA","PB","YD","ED","LGM","H"],"range":["#ff2020","#e35fb2","#4a5ab5","#66cc00","#1a1a1a","#3fd0e2"]}}}},
  {"data":{"name":"p3vec"},"mark":{"type":"rule","color":"#4a5ab5","strokeWidth":1},
   "encoding":{"x":{"field":"x","type":"quantitative","title":null,"scale":{"domain":[-0.65,0.6],"nice":false,"zero":false}},"y":{"field":"y","type":"quantitative","title":null,"scale":{"domain":[-0.5,0.6],"nice":false,"zero":false}},"x2":{"datum":0},"y2":{"datum":0}}},
  {"data":{"values":[{"v":0}]},"mark":{"type":"rule","color":"#333333","strokeWidth":1.6},"encoding":{"x":{"field":"v","type":"quantitative","title":null,"scale":{"domain":[-0.65,0.6],"nice":false,"zero":false}}}},
  {"data":{"values":[{"v":0}]},"mark":{"type":"rule","color":"#333333","strokeWidth":1.6},"encoding":{"y":{"field":"v","type":"quantitative","title":null,"scale":{"domain":[-0.5,0.6],"nice":false,"zero":false}}}},
  {"data":{"name":"p3terr"},"mark":{"type":"rule","color":"#333333","strokeWidth":1.2},
   "encoding":{"x":{"field":"x","type":"quantitative","title":null,"scale":{"domain":[-0.65,0.6],"nice":false,"zero":false}},"y":{"field":"y","type":"quantitative","title":null,"scale":{"domain":[-0.5,0.6],"nice":false,"zero":false}},"y2":{"field":"y2"}}},
  {"data":{"name":"p3tips"},"mark":{"type":"point","filled":true,"size":26,"color":"#333333","opacity":1},
   "encoding":{"x":{"field":"x","type":"quantitative","title":null,"scale":{"domain":[-0.65,0.6],"nice":false,"zero":false}},"y":{"field":"y","type":"quantitative","title":null,"scale":{"domain":[-0.5,0.6],"nice":false,"zero":false}},
    "shape":{"field":"end","type":"nominal","legend":null,"scale":{"domain":["top","bottom"],"range":["triangle-up","triangle-down"]}}}},
  {"data":{"name":"p3pts"},"mark":{"type":"circle","size":42,"opacity":1},
   "encoding":{"x":{"field":"x","type":"quantitative","title":null,"scale":{"domain":[-0.65,0.6],"nice":false,"zero":false}},"y":{"field":"y","type":"quantitative","title":null,"scale":{"domain":[-0.5,0.6],"nice":false,"zero":false}},
    "fill":{"field":"g","type":"nominal","legend":null,"scale":{"domain":["BA","PB","YD","ED","LGM","H"],"range":["#ff0000","#e964b4","#4a5ab5","#66cc00","#222222","#45d2e4"]}}}},
  {"data":{"name":"p3var"},"mark":{"type":"text","fontSize":12,"color":"#222222","fontWeight":"bold"},
   "encoding":{"x":{"field":"x","type":"quantitative","title":null,"scale":{"domain":[-0.65,0.6],"nice":false,"zero":false}},"y":{"field":"y","type":"quantitative","title":null,"scale":{"domain":[-0.5,0.6],"nice":false,"zero":false}},"text":{"field":"t"}}},
  {"data":{"name":"p3grp"},"mark":{"type":"text","fontSize":17,"fontWeight":"bold"},
   "encoding":{"x":{"field":"x","type":"quantitative","title":null,"scale":{"domain":[-0.65,0.6],"nice":false,"zero":false}},"y":{"field":"y","type":"quantitative","title":null,"scale":{"domain":[-0.5,0.6],"nice":false,"zero":false}},"text":{"field":"t"},
    "fill":{"field":"g","type":"nominal","legend":null,"scale":{"domain":["BA","PB","YD","ED","LGM","H"],"range":["#ff0000","#e964b4","#4a5ab5","#66cc00","#222222","#45d2e4"]}}}},
  {"data":{"name":"p3ann"},"mark":{"type":"text","fontSize":15.5,"align":"left","color":"#222222","fontWeight":"bold"},
   "encoding":{"x":{"field":"x","type":"quantitative","title":null,"scale":{"domain":[-0.65,0.6],"nice":false,"zero":false}},"y":{"field":"y","type":"quantitative","title":null,"scale":{"domain":[-0.5,0.6],"nice":false,"zero":false}},"text":{"field":"t"}}},
  {"data":{"name":"p3rot"},"mark":{"type":"text","fontSize":15.5,"angle":270,"color":"#222222","fontWeight":"bold"},
   "encoding":{"x":{"field":"x","type":"quantitative","title":null,"scale":{"domain":[-0.65,0.6],"nice":false,"zero":false}},"y":{"field":"y","type":"quantitative","title":null,"scale":{"domain":[-0.5,0.6],"nice":false,"zero":false}},"text":{"field":"t"}}}
 ]
 }
 ]
}
]
}
